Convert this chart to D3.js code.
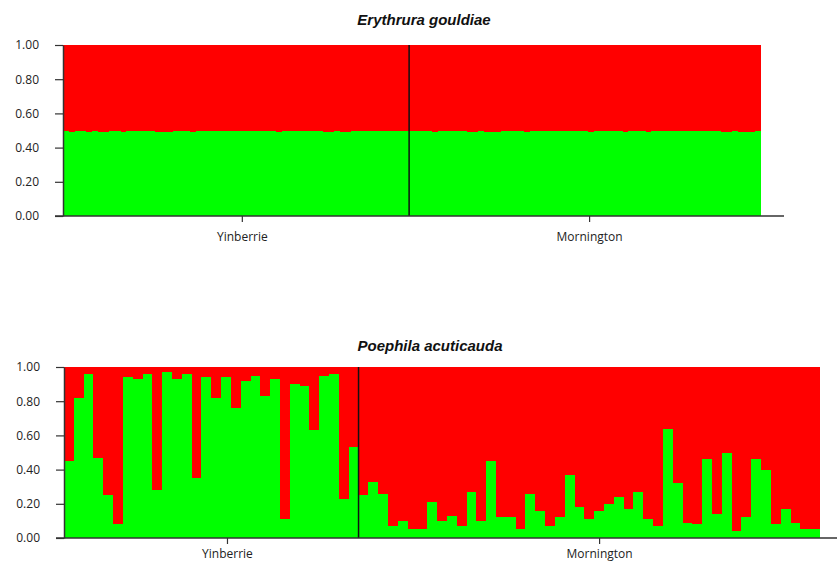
<!DOCTYPE html>
<html>
<head>
<meta charset="utf-8">
<script src="https://cdn.jsdelivr.net/npm/d3@7"></script>
<style>
  body { margin: 0; background: #fff; }
  svg { display: block; }
  .axis text { font-family: "Open Sans", sans-serif; font-size: 12px; fill: #222; }
  .axis path, .axis line { stroke: #333; }
  .title { font-family: "Liberation Sans", Arial, sans-serif; font-size: 15px; font-weight: bold; font-style: italic; fill: #111; }
</style>
</head>
<body>
<div id="chart"></div>
<script>
// green = cluster 1 share per individual, red fills the rest up to 1
let top_yinberrie = [
  0.50, 0.49, 0.50, 0.50, 0.49, 0.50, 0.49, 0.49, 0.50, 0.50,
  0.49, 0.50, 0.50, 0.50, 0.50, 0.50, 0.49, 0.49, 0.49, 0.50,
  0.50, 0.50, 0.49, 0.50, 0.50, 0.50, 0.50, 0.50, 0.50, 0.50,
  0.50, 0.50, 0.50, 0.50, 0.50, 0.50, 0.50, 0.49, 0.50, 0.50,
  0.50, 0.50, 0.50, 0.50, 0.50, 0.49, 0.49, 0.50, 0.49, 0.49,
  0.50, 0.50, 0.50, 0.50, 0.50, 0.50, 0.50, 0.50, 0.50, 0.50
];
let top_mornington = [
  0.50, 0.50, 0.50, 0.50, 0.49, 0.50, 0.50, 0.50, 0.50, 0.50,
  0.49, 0.49, 0.50, 0.49, 0.49, 0.49, 0.50, 0.50, 0.50, 0.50,
  0.49, 0.50, 0.50, 0.50, 0.50, 0.50, 0.50, 0.50, 0.50, 0.50,
  0.50, 0.49, 0.50, 0.50, 0.50, 0.50, 0.50, 0.49, 0.50, 0.50,
  0.50, 0.49, 0.50, 0.50, 0.50, 0.50, 0.50, 0.50, 0.50, 0.50,
  0.50, 0.50, 0.50, 0.50, 0.49, 0.49, 0.50, 0.49, 0.49, 0.49,
  0.50
];

let bottom_yinberrie = [
  0.45, 0.82, 0.96, 0.47, 0.25, 0.08, 0.94, 0.93, 0.96, 0.28,
  0.97, 0.93, 0.96, 0.35, 0.94, 0.82, 0.94, 0.76, 0.92, 0.95,
  0.83, 0.93, 0.11, 0.90, 0.89, 0.63, 0.95, 0.96, 0.23, 0.53
];
let bottom_mornington = [
  0.25, 0.33, 0.26, 0.07, 0.10, 0.05, 0.05, 0.21, 0.10, 0.13,
  0.07, 0.27, 0.10, 0.45, 0.12, 0.12, 0.05, 0.26, 0.16, 0.07,
  0.12, 0.37, 0.18, 0.11, 0.16, 0.20, 0.24, 0.17, 0.27, 0.11,
  0.07, 0.64, 0.32, 0.09, 0.08, 0.46, 0.14, 0.50, 0.04, 0.12,
  0.46, 0.40, 0.08, 0.17, 0.09, 0.05, 0.05
];

let pop_names = ["Yinberrie", "Mornington"];
// label tick positions, in individuals counted from the left edge
let top_label_pos = [31.0, 91.2];
let bottom_label_pos = [16.6, 54.5];
let y_ticks = [0, 0.2, 0.4, 0.6, 0.8, 1.0];

let width = 837;
let height = 564;

let svg = d3.select("#chart")
            .append("svg")
            .attr("width", width)
            .attr("height", height);

draw_panel({
    title: "Erythrura gouldiae",
    title_x: 424, title_y: 25,
    pops: [top_yinberrie, top_mornington],
    label_pos: top_label_pos,
    left: 63, right: 761, top: 45, bottom: 216,
    axis_end: 784, label_pad: 10
});

draw_panel({
    title: "Poephila acuticauda",
    title_x: 430, title_y: 351,
    pops: [bottom_yinberrie, bottom_mornington],
    label_pos: bottom_label_pos,
    left: 64, right: 820, top: 367, bottom: 538,
    axis_end: 845, label_pad: 5
});

function draw_panel(p) {
    let values = p.pops[0].concat(p.pops[1]);
    let n = values.length;

    let x = d3.scaleLinear().domain([0, n]).range([p.left, p.right]);
    let y = d3.scaleLinear().domain([0, 1]).range([p.bottom, p.top]);

    let g = svg.append("g");
    let bars = g.append("g").attr("shape-rendering", "crispEdges");

    // red part (top of each column)
    bars.selectAll(".red")
        .data(values)
        .enter()
        .append("rect")
        .attr("x", (d, i) => Math.round(x(i)))
        .attr("width", (d, i) => Math.round(x(i + 1)) - Math.round(x(i)))
        .attr("y", y(1))
        .attr("height", d => y(d) - y(1))
        .attr("fill", "#ff0000");

    // green part
    bars.selectAll(".green")
        .data(values)
        .enter()
        .append("rect")
        .attr("x", (d, i) => Math.round(x(i)))
        .attr("width", (d, i) => Math.round(x(i + 1)) - Math.round(x(i)))
        .attr("y", d => y(d))
        .attr("height", d => y(0) - y(d))
        .attr("fill", "#00ff00");

    // population divider
    let split = p.pops[0].length;
    g.append("line")
        .attr("x1", x(split)).attr("x2", x(split))
        .attr("y1", y(1)).attr("y2", y(0))
        .attr("stroke", "#111")
        .attr("stroke-width", 1.5);

    let y_axis = g.append("g")
        .attr("class", "axis")
        .attr("transform", "translate(" + p.left + ",0)")
        .call(d3.axisLeft(y)
            .tickValues(y_ticks)
            .tickFormat(d3.format(".2f"))
            .tickSize(8)
            .tickSizeOuter(0)
            .tickPadding(16));
    y_axis.select(".domain").attr("stroke-width", 1.5);
    y_axis.selectAll(".tick line").attr("stroke-width", 1.2);

    let x_axis = g.append("g")
        .attr("class", "axis")
        .attr("transform", "translate(0," + p.bottom + ")")
        .call(d3.axisBottom(x)
            .tickValues(p.label_pos)
            .tickFormat((d, i) => pop_names[i])
            .tickSize(6)
            .tickSizeOuter(0)
            .tickPadding(p.label_pad));
    x_axis.select(".domain").remove();
    x_axis.append("line")
        .attr("x1", p.left - 8).attr("x2", p.axis_end)
        .attr("y1", 0).attr("y2", 0)
        .attr("stroke", "#333")
        .attr("stroke-width", 1.5);
    x_axis.selectAll(".tick line").attr("stroke-width", 1.2);

    g.append("text")
        .attr("class", "title")
        .attr("x", p.title_x)
        .attr("y", p.title_y)
        .attr("text-anchor", "middle")
        .text(p.title);
}
</script>
</body>
</html>
